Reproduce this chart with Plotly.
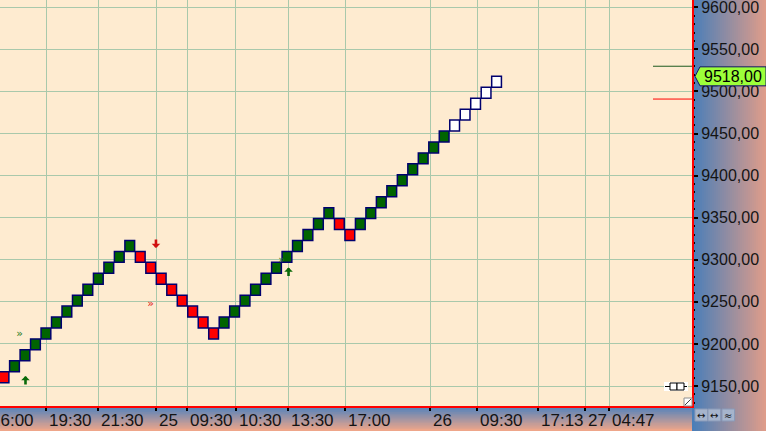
import plotly.graph_objects as go

# ---------------- data ----------------
box_size = 13
brick_col = list(range(48))
brick_low = [9154, 9167, 9180, 9193, 9206, 9219, 9232, 9245, 9258, 9271, 9284, 9297, 9310,
             9297, 9284, 9271, 9258, 9245, 9232, 9219, 9206,
             9219, 9232, 9245, 9258, 9271, 9284, 9297, 9310, 9323, 9336, 9349,
             9336, 9323,
             9336, 9349, 9362, 9375, 9388, 9401, 9414, 9427, 9440,
             9453, 9466, 9479, 9492, 9505]
brick_kind = ["down",
              "up", "up", "up", "up", "up", "up", "up", "up", "up", "up", "up", "up",
              "down", "down", "down", "down", "down", "down", "down", "down",
              "up", "up", "up", "up", "up", "up", "up", "up", "up", "up", "up",
              "down", "down",
              "up", "up", "up", "up", "up", "up", "up", "up", "up",
              "open", "open", "open", "open", "open"]

time_tick_pos = [-1.57, 4.04, 9.0, 14.53, 17.49, 22.11, 27.13, 32.57, 40.68, 45.16, 50.98, 55.47, 57.76]
time_tick_text = ["16:00", "19:30", "21:30", "25", "09:30", "10:30", "13:30", "17:00",
                  "26", "09:30", "17:13", "27", "04:47"]

up_arrow_col = [2.05, 27.15]
up_arrow_price = [9162, 9291]
down_arrow_col = [14.5]
down_arrow_price = [9314]
buy_mark_col = [1.48, 26.48]
buy_mark_price = [9211, 9299]
sell_mark_col = [13.98]
sell_mark_price = [9247]

last_price = 9518
upper_level = 9530
lower_level = 9491

# ---------------- layout geometry ----------------
W, H = 766, 431
ML, MR, MT, MB = 0, 74, 0, 25
PW, PH = W - ML - MR, H - MT - MB
X_RANGE = [-0.382, 65.65]
Y_RANGE = [9126.3, 9608.7]


def px(x):
    return x / PW


def py(y):
    return 1 - y / PH


def col_to_px(c):
    return (c - X_RANGE[0]) / (X_RANGE[1] - X_RANGE[0])


def price_to_py(p):
    return (p - Y_RANGE[0]) / (Y_RANGE[1] - Y_RANGE[0])


def lerp(c1, c2, t):
    a = [int(c1[i:i + 2], 16) for i in (1, 3, 5)]
    b = [int(c2[i:i + 2], 16) for i in (1, 3, 5)]
    return "#%02x%02x%02x" % tuple(round(a[k] + (b[k] - a[k]) * t) for k in range(3))


fig = go.Figure()

fills = {"up": "#006400", "down": "#FF0000", "open": "#FFFFFF"}
for kind in ["up", "down", "open"]:
    xs = [c for c, k in zip(brick_col, brick_kind) if k == kind]
    bs = [b for b, k in zip(brick_low, brick_kind) if k == kind]
    fig.add_trace(go.Bar(
        x=xs, y=[box_size] * len(xs), base=bs, width=0.93,
        marker=dict(color=fills[kind], line=dict(color="#00006E", width=1.5)),
        hoverinfo="skip", showlegend=False))

fig.add_trace(go.Scatter(
    x=buy_mark_col, y=buy_mark_price, mode="text", text=["»"] * len(buy_mark_col),
    textfont=dict(color="#1E7A1E", size=11, family="DejaVu Sans"), showlegend=False, hoverinfo="skip"))
fig.add_trace(go.Scatter(
    x=sell_mark_col, y=sell_mark_price, mode="text", text=["»"] * len(sell_mark_col),
    textfont=dict(color="#E02020", size=11, family="DejaVu Sans"), showlegend=False, hoverinfo="skip"))

annotations = []
for c, p in zip(up_arrow_col, up_arrow_price):
    annotations.append(dict(x=c, y=p, xref="x", yref="y", text="", showarrow=True,
                            ax=0, ay=10, arrowhead=1, arrowsize=0.55, arrowwidth=2.6,
                            arrowcolor="#0A6A0A", standoff=0))
for c, p in zip(down_arrow_col, down_arrow_price):
    annotations.append(dict(x=c, y=p, xref="x", yref="y", text="", showarrow=True,
                            ax=0, ay=-10, arrowhead=1, arrowsize=0.55, arrowwidth=2.6,
                            arrowcolor="#D01010", standoff=0))

for pos, txt in zip(time_tick_pos, time_tick_text):
    annotations.append(dict(x=col_to_px(pos), y=0, xref="paper", yref="paper", text=txt,
                            showarrow=False, xanchor="left", yanchor="top", xshift=1, yshift=-3,
                            font=dict(family="Liberation Sans", size=17, color="#141414")))

# price label text
annotations.append(dict(x=px(766), y=price_to_py(last_price), xref="paper", yref="paper",
                        text="9518,00", showarrow=False, xanchor="right", yanchor="middle",
                        xshift=-2,
                        font=dict(family="Liberation Sans", size=16, color="#000000")))

shapes = []
# right gradient panel
n = 37
for i in range(n):
    x0 = PW + i * (MR / n)
    shapes.append(dict(type="rect", xref="paper", yref="paper", layer="below",
                       x0=px(x0), x1=px(x0 + MR / n + 0.6), y0=py(H), y1=py(0),
                       line=dict(width=0), fillcolor=lerp("#4A7EB8", "#DE9C8A", i / (n - 1))))
# bottom gradient panel
m = 13
for i in range(m):
    y0 = PH + i * (MB / m)
    shapes.append(dict(type="rect", xref="paper", yref="paper", layer="below",
                       x0=px(0), x1=px(PW), y0=py(y0), y1=py(y0 + MB / m + 0.6),
                       line=dict(width=0), fillcolor=lerp("#5282BC", "#EEA68A", i / (m - 1))))

# red borders
shapes.append(dict(type="line", xref="paper", yref="paper", x0=px(693), x1=px(693),
                   y0=py(408), y1=py(0), line=dict(color="#FF0000", width=2)))
shapes.append(dict(type="line", xref="paper", yref="paper", x0=px(0), x1=px(694),
                   y0=py(407), y1=py(407), line=dict(color="#FF0000", width=2)))

# level lines
shapes.append(dict(type="line", xref="paper", yref="paper", x0=px(653), x1=px(692),
                   y0=price_to_py(upper_level), y1=price_to_py(upper_level),
                   line=dict(color="#1E5A1E", width=1)))
shapes.append(dict(type="line", xref="paper", yref="paper", x0=px(653), x1=px(692),
                   y0=price_to_py(lower_level), y1=price_to_py(lower_level),
                   line=dict(color="#FF0000", width=1)))

# price label pentagon
cy = (1 - price_to_py(last_price)) * PH
pts = [(695, cy), (700, cy - 9.5), (766, cy - 9.5), (766, cy + 9.5), (700, cy + 9.5)]
path = "M " + " L ".join("%.5f,%.5f" % (px(a), py(b)) for a, b in pts) + " Z"
shapes.append(dict(type="path", xref="paper", yref="paper", path=path,
                   fillcolor="#9CFF3A", line=dict(color="#10106A", width=1)))

# small widgets bottom-right of plot
shapes.append(dict(type="rect", xref="paper", yref="paper", x0=px(664), x1=px(688),
                   y0=py(391), y1=py(382), fillcolor="#FFFFFF", line=dict(width=0)))
shapes.append(dict(type="line", xref="paper", yref="paper", x0=px(665), x1=px(687),
                   y0=py(386.5), y1=py(386.5), line=dict(color="#000000", width=1)))
shapes.append(dict(type="rect", xref="paper", yref="paper", x0=px(670), x1=px(677),
                   y0=py(390), y1=py(383), fillcolor="#FFFFFF", line=dict(color="#000000", width=1)))
shapes.append(dict(type="rect", xref="paper", yref="paper", x0=px(677), x1=px(684),
                   y0=py(390), y1=py(383), fillcolor="#FFFFFF", line=dict(color="#000000", width=1)))
shapes.append(dict(type="rect", xref="paper", yref="paper", x0=px(684), x1=px(692),
                   y0=py(406), y1=py(398), fillcolor="#FFFFFF", line=dict(color="#909090", width=1)))
shapes.append(dict(type="line", xref="paper", yref="paper", x0=px(685), x1=px(691),
                   y0=py(405), y1=py(399), line=dict(color="#404040", width=1)))
# buttons
for bx0, glyph in [(695, "↔"), (708, "↔"), (722, "≈")]:
    shapes.append(dict(type="rect", xref="paper", yref="paper", x0=px(bx0), x1=px(bx0 + 12.5),
                       y0=py(421), y1=py(409), fillcolor="#A6B4CC", line=dict(color="#8A9AB8", width=1)))
    annotations.append(dict(x=px(bx0 + 6.25), y=py(415), xref="paper", yref="paper", text=glyph,
                            showarrow=False, xanchor="center", yanchor="middle",
                            font=dict(family="DejaVu Sans", size=10, color="#101010")))

fig.update_layout(
    width=W, height=H,
    margin=dict(l=ML, r=MR, t=MT, b=MB, pad=0, autoexpand=False),
    paper_bgcolor="#9A90A8",
    plot_bgcolor="#FEEBD0",
    separators=",.",
    barmode="overlay",
    showlegend=False,
    xaxis=dict(range=X_RANGE, tickvals=time_tick_pos, showticklabels=False,
               ticks="outside", ticklen=4, tickwidth=1.5, tickcolor="#000000",
               showgrid=True, gridcolor="#A9C8AB", gridwidth=1.2, zeroline=False,
               showline=False, fixedrange=True, automargin=False),
    yaxis=dict(range=Y_RANGE, side="right", dtick=50, tick0=9150, tickformat=".2f",
               ticks="outside", ticklen=5, tickwidth=1.5, tickcolor="#000000",
               tickfont=dict(family="Liberation Sans", size=16, color="#141414"),
               ticklabeloverflow="allow",
               minor=dict(dtick=10, ticks="outside", ticklen=2, tickwidth=1.5,
                          tickcolor="#000000", showgrid=False),
               showgrid=True, gridcolor="#A9C8AB", gridwidth=1.2, zeroline=False,
               showline=False, fixedrange=True, automargin=False),
    shapes=shapes,
    annotations=annotations,
)

fig.write_html("out.html", config={"displayModeBar": False},
               post_script="document.body.style.margin='0';document.body.style.overflow='hidden';")
